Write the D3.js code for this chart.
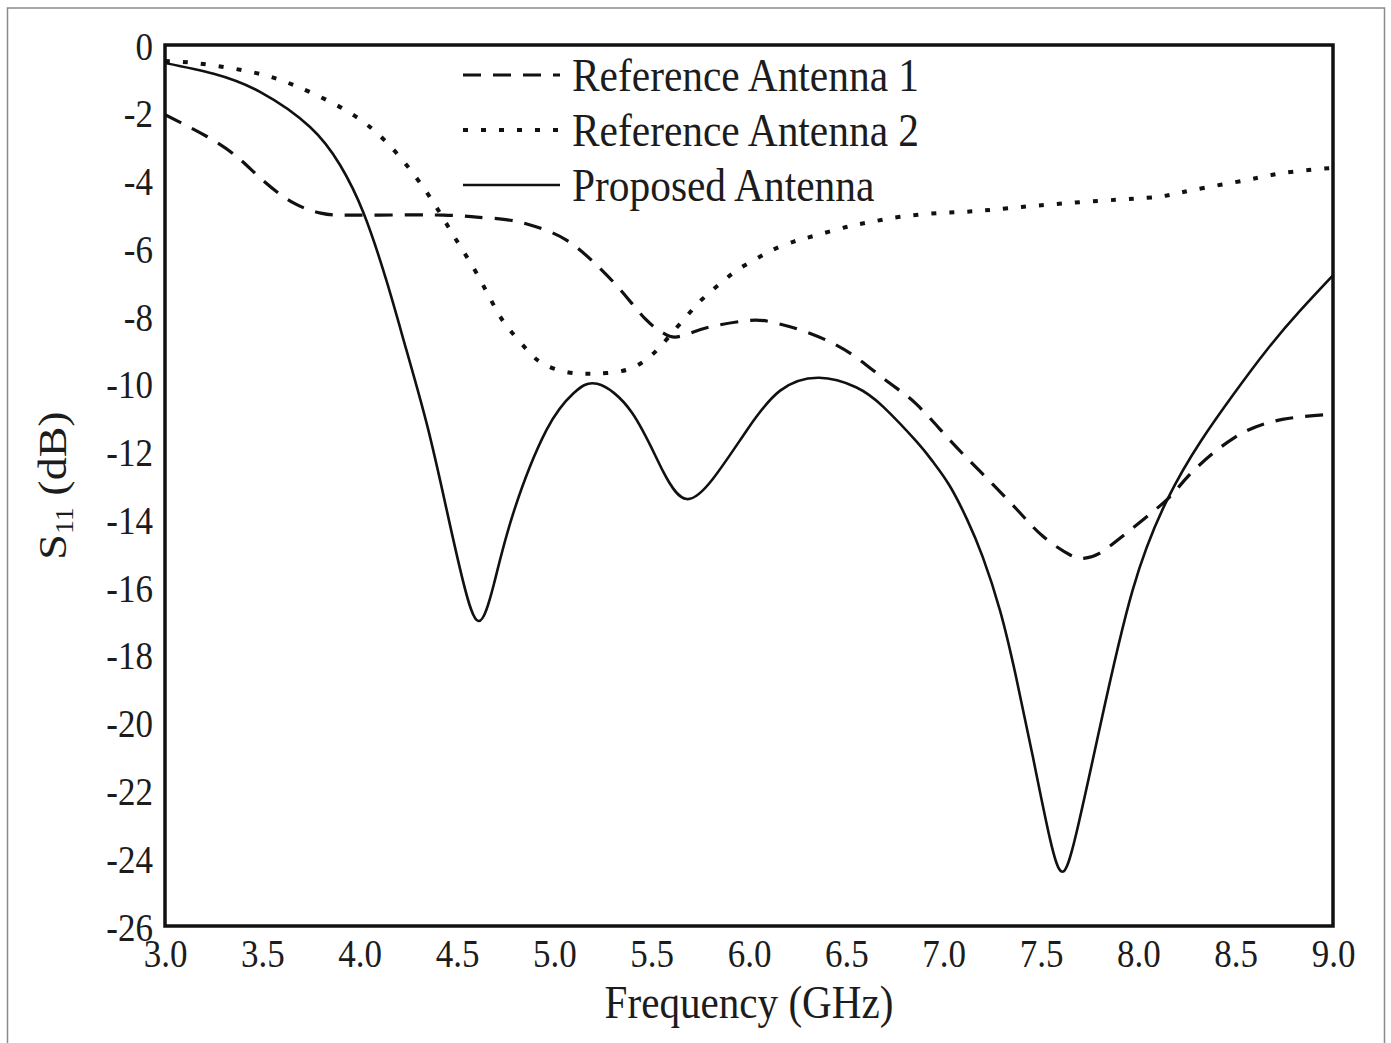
<!DOCTYPE html>
<html>
<head>
<meta charset="utf-8">
<script src="https://cdn.jsdelivr.net/npm/d3@7"></script>
<style>
  html, body { margin: 0; padding: 0; background: #fff; }
  svg { display: block; }
  text { font-family: "Liberation Serif", "DejaVu Serif", serif; fill: #1c1c1c; }
</style>
</head>
<body>
<svg id="chart" width="1391" height="1043"></svg>
<script>
// ---------- data ----------
const xTicks = [3.0, 3.5, 4.0, 4.5, 5.0, 5.5, 6.0, 6.5, 7.0, 7.5, 8.0, 8.5, 9.0];
const yTicks = [0, -2, -4, -6, -8, -10, -12, -14, -16, -18, -20, -22, -24, -26];

const seriesNames = ["Reference Antenna 1", "Reference Antenna 2", "Proposed Antenna"];

const ref1Freq = [3.0, 3.215, 3.37, 3.5, 3.66, 3.8, 3.9, 4.1, 4.43, 4.6, 4.76, 4.91, 5.06, 5.2, 5.34, 5.47, 5.56, 5.62, 5.70, 5.815, 6.0, 6.11, 6.26, 6.43, 6.57, 6.72, 6.86, 7.03, 7.2, 7.375, 7.51, 7.65, 7.72, 7.8, 7.94, 8.15, 8.26, 8.49, 8.74, 9.0];
const ref1S11 = [-2.06, -2.7, -3.3, -3.98, -4.66, -4.96, -5.02, -5.02, -5.02, -5.08, -5.16, -5.37, -5.75, -6.4, -7.23, -8.1, -8.5, -8.62, -8.5, -8.3, -8.13, -8.17, -8.4, -8.8, -9.3, -9.97, -10.6, -11.65, -12.66, -13.7, -14.5, -15.05, -15.15, -15.0, -14.4, -13.4, -12.7, -11.6, -11.05, -10.9];

const ref2Freq = [3.0, 3.195, 3.47, 3.66, 3.85, 4.04, 4.21, 4.36, 4.48, 4.6, 4.7, 4.77, 4.86, 4.94, 5.06, 5.17, 5.27, 5.40, 5.51, 5.59, 5.68, 5.76, 5.85, 5.94, 6.04, 6.12, 6.23, 6.33, 6.5, 6.6, 6.775, 6.98, 7.17, 7.4, 7.8, 8.1, 8.28, 8.56, 8.74, 8.93, 9.0];
const ref2S11 = [-0.47, -0.56, -0.83, -1.18, -1.68, -2.36, -3.33, -4.48, -5.6, -6.73, -7.8, -8.4, -9.0, -9.4, -9.65, -9.7, -9.68, -9.53, -9.1, -8.6, -8.0, -7.5, -7.05, -6.64, -6.3, -6.05, -5.8, -5.64, -5.37, -5.25, -5.07, -4.96, -4.9, -4.78, -4.6, -4.48, -4.28, -3.98, -3.78, -3.66, -3.63];

const propFreq = [3.0, 3.25, 3.49, 3.745, 3.9, 4.02, 4.14, 4.24, 4.35, 4.45, 4.53, 4.61, 4.69, 4.79, 4.96, 5.1, 5.22, 5.4, 5.56, 5.68, 5.815, 5.99, 6.16, 6.36, 6.55, 6.69, 6.86, 6.945, 7.03, 7.12, 7.2, 7.29, 7.37, 7.458, 7.545, 7.61, 7.68, 7.80, 7.97, 8.15, 8.32, 8.49, 8.66, 8.83, 9.0];
const propS11 = [-0.53, -0.85, -1.39, -2.42, -3.55, -4.96, -7.0, -9.0, -11.3, -13.8, -15.8, -17.0, -15.9, -13.8, -11.36, -10.27, -10.0, -10.86, -12.6, -13.4, -12.8, -11.36, -10.2, -9.82, -10.1, -10.68, -11.7, -12.3, -13.0, -14.0, -15.1, -16.7, -18.6, -21.0, -23.4, -24.4, -23.3, -20.2, -16.1, -13.4, -11.7, -10.3, -9.0, -7.85, -6.8];

// ---------- layout ----------
const svg = d3.select("#chart");
const L = 165, R = 1333, T = 45, B = 926;
const SX = 0.875; // horizontal text condensing
const hyphen = d => String(d).replace("\u2212", "-");

const x = d3.scaleLinear().domain([3, 9]).range([L, R]);
const y = d3.scaleLinear().domain([-26, 0]).range([B, T]);

// outer gray frame
svg.append("rect").attr("x", 7.5).attr("y", 8).attr("width", 1377).attr("height", 1050)
  .attr("fill", "none").attr("stroke", "#8a8a8a").attr("stroke-width", 1.5);

svg.append("clipPath").attr("id", "clip").append("rect")
  .attr("x", L).attr("y", T).attr("width", R - L).attr("height", B - T);

// axes (labels only, no tick marks)
const gx = svg.append("g").attr("transform", `translate(0,${B})`)
  .call(d3.axisBottom(x).tickValues(xTicks).tickFormat(d => d.toFixed(1)).tickSize(0).tickPadding(0));
gx.select(".domain").remove();
gx.selectAll("text")
  .attr("y", 41).attr("dy", null).attr("x", 0)
  .attr("font-size", 40)
  .attr("text-anchor", "middle")
  .attr("transform", `scale(${SX},1)`);

const gy = svg.append("g").attr("transform", `translate(${L},0)`)
  .call(d3.axisLeft(y).tickValues(yTicks).tickFormat(d => hyphen(String(d))).tickSize(0).tickPadding(0));
gy.select(".domain").remove();
gy.selectAll("text")
  .attr("x", -12 / SX).attr("dy", "0.35em")
  .attr("font-size", 40)
  .attr("text-anchor", "end")
  .attr("transform", `scale(${SX},1)`);

// lines
const line = d3.line().x(d => x(d[0])).y(d => y(d[1])).curve(d3.curveNatural);
const plot = svg.append("g").attr("clip-path", "url(#clip)");

const styles = [
  { dash: "18,12", width: 3.2 },
  { dash: "5,13", width: 4 },
  { dash: null, width: 2.6 }
];
const seriesData = [
  d3.zip(ref1Freq, ref1S11),
  d3.zip(ref2Freq, ref2S11),
  d3.zip(propFreq, propS11)
];
seriesData.forEach((pts, i) => {
  plot.append("path").datum(pts)
    .attr("d", line)
    .attr("fill", "none")
    .attr("stroke", "#111")
    .attr("stroke-width", styles[i].width)
    .attr("stroke-dasharray", styles[i].dash);
});

// frame
svg.append("rect").attr("x", L).attr("y", T).attr("width", R - L).attr("height", B - T)
  .attr("fill", "none").attr("stroke", "#111").attr("stroke-width", 3.5);

// legend
const legY = [75, 130, 185];
seriesNames.forEach((name, i) => {
  svg.append("line")
    .attr("x1", 463).attr("x2", 560).attr("y1", legY[i]).attr("y2", legY[i])
    .attr("stroke", "#111").attr("stroke-width", styles[i].width)
    .attr("stroke-dasharray", styles[i].dash);
  svg.append("text")
    .attr("transform", `translate(572,${legY[i] + 16}) scale(0.9,1)`)
    .attr("font-size", 46)
    .text(name);
});

// axis titles
svg.append("text")
  .attr("transform", `translate(${(L + R) / 2},1018) scale(${SX},1)`)
  .attr("text-anchor", "middle")
  .attr("font-size", 47)
  .text("Frequency (GHz)");

const yl = svg.append("text")
  .attr("transform", `translate(66,${(T + B) / 2}) scale(${SX},1) rotate(-90)`)
  .attr("text-anchor", "middle")
  .attr("font-size", 46);
yl.append("tspan").text("S");
yl.append("tspan").attr("font-size", 28).attr("dy", 8).text("11");
yl.append("tspan").attr("dy", -8).text(" (dB)");
</script>
</body>
</html>
